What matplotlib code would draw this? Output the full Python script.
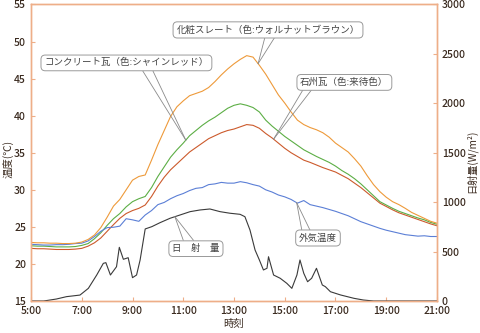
import numpy as np
import matplotlib
matplotlib.use("Agg")
import matplotlib.pyplot as plt
from matplotlib.ticker import FuncFormatter

plt.rcParams['font.family'] = ['Noto Sans CJK JP', 'DejaVu Sans']

# temperatures every 15 minutes, 5:00 - 21:00
hours = np.arange(5.0, 21.01, 0.25)

slate = [22.9, 22.85, 22.85, 22.8, 22.8, 22.75, 22.75, 22.8, 22.95, 23.3, 23.9, 24.9, 26.3,
         27.8, 28.7, 30.0, 31.3, 31.8, 32.0, 34.0, 36.1, 38.0, 39.9, 41.2, 42.0, 42.7, 43.0,
         43.3, 43.8, 44.6, 45.5, 46.3, 47.0, 47.6, 48.1, 47.9, 46.8, 45.6, 44.2, 42.8, 41.7,
         40.5, 39.4, 38.8, 38.4, 38.1, 37.7, 37.1, 36.3, 35.7, 35.1, 34.2, 33.2, 31.9, 30.7,
         29.75, 29.0, 28.4, 28.0, 27.5, 26.95, 26.55, 26.15, 25.75, 25.5]

concrete = [22.45, 22.4, 22.4, 22.35, 22.3, 22.3, 22.3, 22.35, 22.5, 22.75, 23.4, 24.2, 25.2,
            26.1, 26.8, 27.7, 28.4, 28.8, 29.1, 30.3, 31.8, 33.1, 34.4, 35.4, 36.3, 37.3, 38.0,
            38.7, 39.3, 39.8, 40.4, 41.0, 41.4, 41.6, 41.4, 41.1, 40.5, 39.4, 38.6, 37.9, 37.2,
            36.6, 36.0, 35.4, 34.95, 34.5, 34.1, 33.7, 33.2, 32.6, 32.1, 31.5, 30.8, 30.0, 29.2,
            28.4, 27.95, 27.5, 27.1, 26.8, 26.5, 26.2, 25.95, 25.6, 25.35]

sekishu = [22.1, 22.05, 22.05, 22.0, 21.95, 21.95, 21.95, 22.0, 22.1, 22.4, 22.85, 23.5, 24.4,
           25.3, 26.15, 26.8, 27.2, 27.5, 27.95, 29.1, 30.5, 31.7, 32.7, 33.5, 34.3, 35.1, 35.7,
           36.3, 36.9, 37.3, 37.7, 38.0, 38.2, 38.5, 38.8, 38.7, 38.3, 37.6, 37.0, 36.3, 35.6,
           35.0, 34.5, 34.0, 33.7, 33.35, 33.0, 32.7, 32.4, 31.95, 31.5, 30.9, 30.3, 29.6, 28.9,
           28.2, 27.75, 27.3, 26.9, 26.6, 26.3, 26.0, 25.7, 25.4, 25.15]

outside = [22.65, 22.6, 22.55, 22.55, 22.6, 22.6, 22.65, 22.75, 22.8, 23.1, 23.7, 24.4, 24.9,
           24.95, 25.1, 26.1, 25.95, 25.75, 26.6, 27.2, 28.0, 28.3, 28.8, 29.2, 29.5, 29.9, 30.2,
           30.3, 30.7, 30.8, 31.0, 30.9, 30.9, 31.1, 30.95, 30.7, 30.5, 30.0, 29.7, 29.3, 29.05,
           28.7, 28.2, 28.55, 28.0, 27.8, 27.6, 27.35, 27.1, 26.8, 26.5, 26.1, 25.7, 25.4, 25.1,
           24.8, 24.55, 24.35, 24.15, 23.95, 23.85, 23.75, 23.8, 23.7, 23.7]

# solar radiation (W/m2)
sun_hours = [5.0, 5.5, 5.75, 6.0, 6.4, 6.93, 7.26, 7.59, 7.85, 7.95, 8.13, 8.37, 8.48, 8.64,
             8.83, 9.0, 9.16, 9.3, 9.5, 9.76, 10.08, 10.48, 10.87, 11.27, 11.66, 12.05, 12.45,
             12.84, 13.24, 13.43, 13.63, 13.83, 14.0, 14.16, 14.3, 14.36, 14.56, 14.82, 15.08,
             15.28, 15.48, 15.6, 15.75, 15.9, 16.06, 16.25, 16.48, 16.6, 16.8, 17.2, 17.73,
             18.1, 18.5, 21.0]
sun = [0, 0, 10, 20, 44, 60, 128, 263, 381, 388, 263, 347, 543, 422, 438, 236, 263, 415, 729,
       752, 792, 837, 870, 904, 921, 931, 904, 888, 877, 853, 718, 516, 415, 314, 331, 448, 263,
       230, 179, 128, 263, 415, 280, 195, 230, 331, 162, 145, 94, 61, 27, 10, 0, 0]

spine_c = '#eeae88'
text_c = '#3b2b20'

fig = plt.figure(figsize=(4.8, 3.33), dpi=100)
ax = fig.add_axes([0.0646, 0.0961, 0.8458, 0.8904])
ax2 = ax.twinx()

ax.plot(hours, sekishu, color='#cc5a2c', lw=0.8)
ax.plot(hours, concrete, color='#5cae45', lw=0.8)
ax.plot(hours, outside, color='#5b7fd6', lw=0.8)
ax.plot(hours, slate, color='#ee9a3a', lw=0.8)
ax2.plot(sun_hours, sun, color='#3a3a3a', lw=0.8)

ax.set_xlim(5, 21)
ax.set_ylim(15, 55)
ax2.set_ylim(0, 3000)
ax.set_xticks(np.arange(5, 22, 2))
ax.xaxis.set_major_formatter(FuncFormatter(lambda v, p: f"{int(v)}:00"))
ax.set_yticks(np.arange(15, 56, 5))
ax2.set_yticks(np.arange(0, 3001, 500))

for a in (ax, ax2):
    for s in a.spines.values():
        s.set_color(spine_c)
        s.set_linewidth(1.0)
    a.tick_params(direction='in', length=3, width=0.8, color=spine_c,
                  labelcolor=text_c, labelsize=7.5, pad=3.5)

for lbl in ax.get_xticklabels() + ax.get_yticklabels() + ax2.get_yticklabels():
    lbl.set_fontweight('medium')

ax.set_xlabel('時刻', fontsize=7.5, color=text_c, labelpad=2.5)
ax.set_ylabel('温度(℃)', fontsize=7.5, color=text_c)
ax.yaxis.set_label_coords(-0.042, 0.48)
ax2.set_ylabel('日射量(W/m²)', fontsize=7.3, color=text_c)
ax2.yaxis.set_label_coords(1.07, 0.47)


def sun_to_temp(v):
    return 15 + v / 3000 * 40


def callout(text, cx, cy, base_xs, base_y, apex_x, apex_y):
    # two thin lines from the box edge converging onto the curve
    for bx in base_xs:
        ax2.plot([bx, apex_x], [base_y, apex_y], color='#8a8a8a', lw=0.6,
                 transform=ax.transData, zorder=4)
    ax2.text(cx, cy, text, transform=ax.transData, ha='center', va='center',
             fontsize=6.8, color='#444444', zorder=5,
             bbox=dict(boxstyle='round,pad=0.35,rounding_size=0.45', fc='white',
                       ec='#9a9a9a', lw=0.7))


callout('化粧スレート（色:ウォルナットブラウン）', 14.34, 51.57, [14.22, 14.61], 50.6,
        13.95, np.interp(13.95, hours, slate))
callout('コンクリート瓦（色:シャインレッド）', 8.76, 47.12, [9.41, 9.81], 46.0,
        11.1, np.interp(11.1, hours, concrete))
callout('石州瓦（色:来待色）', 17.35, 44.49, [15.72, 16.06], 43.5,
        14.56, np.interp(14.56, hours, sekishu))
callout('外気温度', 16.31, 23.5, [15.67, 15.99], 24.6,
        15.47, np.interp(15.47, hours, outside))
callout('日　射　量', 11.5, 22.06, [11.0, 11.4], 23.2,
        10.67, sun_to_temp(np.interp(10.67, sun_hours, sun)))

fig.savefig('out.png', dpi=100)
